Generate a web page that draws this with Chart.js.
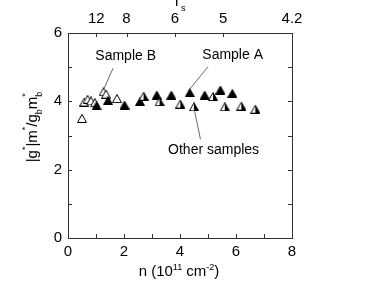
<!DOCTYPE html>
<html>
<head>
<meta charset="utf-8">
<script src="https://cdn.jsdelivr.net/npm/chart.js@4/dist/chart.umd.min.js"></script>
<style>
  html, body { margin: 0; padding: 0; background: #fff; }
  #wrap { width: 375px; height: 284px; position: relative; }
</style>
</head>
<body>
<div id="wrap"><canvas id="chart"></canvas></div>
<script>
// ── Data ───────────────────────────────────────────────────────────────────
var sampleA_n = [1.02, 1.43, 2.02, 2.57, 3.17, 3.69, 4.35, 4.88, 5.44, 5.87];
var sampleA_g = [3.87, 4.02, 3.89, 3.99, 4.18, 4.18, 4.25, 4.18, 4.33, 4.23];
var sampleB_n = [0.50, 0.58, 0.70, 0.82, 0.96, 1.27, 1.36, 1.75];
var sampleB_g = [3.50, 3.98, 4.06, 4.01, 3.96, 4.28, 4.21, 4.08];
var other_n = [2.70, 3.27, 4.01, 4.50, 5.18, 5.60, 6.19, 6.69];
var other_g = [4.15, 3.99, 3.92, 3.84, 4.14, 3.84, 3.86, 3.77];

// top axis: r_s labels and where they sit on the n axis
var rsLabels = ["12", "8", "6", "5", "4.2"];
var rsAtN = [1.01, 2.09, 3.82, 5.54, 8.0];

var FONT = "'Liberation Sans', Arial, sans-serif";

function pts(xs, ys) {
    return xs.map(function (x, i) { return { x: x, y: ys[i] }; });
}

// ── Triangle markers (open / filled / half) ────────────────────────────────
function marker(kind) {
    var c = document.createElement("canvas");
    c.width = 10; c.height = 9;
    var g = c.getContext("2d");
    var top = [5, 0.5], bl = [0.5, 8.5], br = [9.5, 8.5];
    g.lineWidth = 1;
    g.strokeStyle = "#000";
    if (kind === "half") {
        g.fillStyle = "#fff";
        g.beginPath(); g.moveTo(top[0], top[1]); g.lineTo(5, 8.5); g.lineTo(bl[0], bl[1]); g.closePath(); g.fill();
        g.fillStyle = "#000";
        g.beginPath(); g.moveTo(top[0], top[1]); g.lineTo(br[0], br[1]); g.lineTo(5, 8.5); g.closePath(); g.fill();
    } else {
        g.fillStyle = kind === "filled" ? "#000" : "#fff";
        g.beginPath(); g.moveTo(top[0], top[1]); g.lineTo(br[0], br[1]); g.lineTo(bl[0], bl[1]); g.closePath(); g.fill();
    }
    g.beginPath(); g.moveTo(top[0], top[1]); g.lineTo(br[0], br[1]); g.lineTo(bl[0], bl[1]); g.closePath(); g.stroke();
    return c;
}

// draw a run of text pieces, some raised or lowered
function drawRich(ctx, segs, x, y) {
    var total = 0;
    segs.forEach(function (s) {
        ctx.font = s.size + "px " + FONT;
        s.w = ctx.measureText(s.t).width;
        if (!s.stack) total += s.w;
    });
    var cx = x - total / 2;
    segs.forEach(function (s) {
        ctx.font = s.size + "px " + FONT;
        ctx.fillText(s.t, cx, y + (s.dy || 0));
        if (!s.stack) cx += s.w;
    });
}

// ── Plugin: inward ticks, titles and annotations ───────────────────────────
var decor = {
    id: "decor",
    afterDraw: function (chart) {
        var ctx = chart.ctx;
        var a = chart.chartArea;
        var sx = chart.scales.x, sy = chart.scales.y, st = chart.scales.x2;
        var L = 4;
        ctx.save();
        ctx.strokeStyle = "#333";
        ctx.lineWidth = 1;
        ctx.beginPath();
        for (var v = 1; v < 6; v++) {
            var py = Math.round(sy.getPixelForValue(v)) + 0.5;
            ctx.moveTo(a.left, py); ctx.lineTo(a.left + L, py);
            ctx.moveTo(a.right, py); ctx.lineTo(a.right - L, py);
        }
        for (var u = 1; u < 8; u++) {
            var px = Math.round(sx.getPixelForValue(u)) + 0.5;
            ctx.moveTo(px, a.bottom); ctx.lineTo(px, a.bottom - L);
        }
        rsAtN.forEach(function (n) {
            if (n >= 8) return;
            var px = Math.round(st.getPixelForValue(n)) + 0.5;
            ctx.moveTo(px, a.top); ctx.lineTo(px, a.top + L);
        });
        ctx.stroke();

        // annotations
        ctx.fillStyle = "#000";
        ctx.textBaseline = "middle";
        ctx.textAlign = "center";
        ctx.font = "14px " + FONT;
        var notes = [
            { t: "Sample B", tx: 2.06, ty: 5.31, x1: 1.61, y1: 4.97, x2: 1.29, y2: 4.38 },
            { t: "Sample A", tx: 5.88, ty: 5.36, x1: 5.00, y1: 5.01, x2: 4.32, y2: 4.33 },
            { t: "Other samples", tx: 5.20, ty: 2.58, x1: 4.73, y1: 2.89, x2: 4.50, y2: 3.80 }
        ];
        ctx.strokeStyle = "#444";
        ctx.lineWidth = 0.8;
        notes.forEach(function (nt) {
            ctx.fillText(nt.t, sx.getPixelForValue(nt.tx), sy.getPixelForValue(nt.ty));
            ctx.beginPath();
            ctx.moveTo(sx.getPixelForValue(nt.x1), sy.getPixelForValue(nt.y1));
            ctx.lineTo(sx.getPixelForValue(nt.x2), sy.getPixelForValue(nt.y2));
            ctx.stroke();
        });

        // axis titles
        ctx.textAlign = "left";
        ctx.textBaseline = "alphabetic";
        drawRich(ctx, [
            { t: "n (10", size: 15 },
            { t: "11", size: 9, dy: -6 },
            { t: " cm", size: 15 },
            { t: "-2", size: 9, dy: -6 },
            { t: ")", size: 15 }
        ], 179, 276);

        ctx.font = "15px " + FONT;
        ctx.fillText("r", 175, 6);
        ctx.font = "9px " + FONT;
        ctx.fillText("s", 181, 11);

        ctx.translate(37, 127);
        ctx.rotate(-Math.PI / 2);
        drawRich(ctx, [
            { t: "|g", size: 15 },
            { t: "*", size: 9, dy: -9 },
            { t: "|m", size: 15 },
            { t: "*", size: 9, dy: -9 },
            { t: "/g", size: 15 },
            { t: "b", size: 9, dy: 5 },
            { t: "m", size: 15 },
            { t: "*", size: 9, dy: -9, stack: true },
            { t: "b", size: 9, dy: 5 }
        ], 0, 0);
        ctx.restore();
    }
};

// ── Chart ──────────────────────────────────────────────────────────────────
var tickFont = { family: FONT, size: 15 };
var edge = { color: "#333", width: 1 };

new Chart(document.getElementById("chart"), {
    type: "scatter",
    data: {
        datasets: [
            { label: "Other samples", data: pts(other_n, other_g), pointStyle: marker("half") },
            { label: "Sample A", data: pts(sampleA_n, sampleA_g), pointStyle: marker("filled") },
            { label: "Sample B", data: pts(sampleB_n, sampleB_g), pointStyle: marker("open") }
        ]
    },
    options: {
        responsive: true,
        maintainAspectRatio: false,
        animation: false,
        layout: { padding: 0 },
        plugins: { legend: { display: false }, tooltip: { enabled: false } },
        scales: {
            x: {
                type: "linear", position: "bottom", min: 0, max: 8,
                grid: { drawOnChartArea: false, drawTicks: false },
                border: edge,
                ticks: {
                    stepSize: 1, autoSkip: false, maxRotation: 0, padding: 5,
                    color: "#000", font: tickFont,
                    callback: function (v) { return v % 2 === 0 ? v : ""; }
                },
                afterFit: function (s) { s.height = 46; }
            },
            x2: {
                type: "linear", position: "top", min: 0, max: 8,
                grid: { drawOnChartArea: false, drawTicks: false },
                border: edge,
                ticks: {
                    autoSkip: false, maxRotation: 0, padding: 5,
                    color: "#000", font: tickFont,
                    callback: function (v) {
                        var i = rsAtN.indexOf(v);
                        return i >= 0 ? rsLabels[i] : "";
                    }
                },
                afterBuildTicks: function (s) {
                    s.ticks = rsAtN.map(function (n) { return { value: n }; });
                },
                afterFit: function (s) { s.height = 33; }
            },
            y: {
                type: "linear", position: "left", min: 0, max: 6,
                grid: { drawOnChartArea: false, drawTicks: false },
                border: edge,
                ticks: {
                    stepSize: 1, padding: 6, color: "#000", font: tickFont,
                    callback: function (v) { return v % 2 === 0 ? v : ""; }
                },
                afterFit: function (s) { s.width = 68; }
            },
            y2: {
                type: "linear", position: "right", min: 0, max: 6,
                grid: { drawOnChartArea: false, drawTicks: false },
                border: edge,
                ticks: { display: false },
                afterFit: function (s) { s.width = 83; }
            }
        }
    },
    plugins: [decor]
});
</script>
</body>
</html>
